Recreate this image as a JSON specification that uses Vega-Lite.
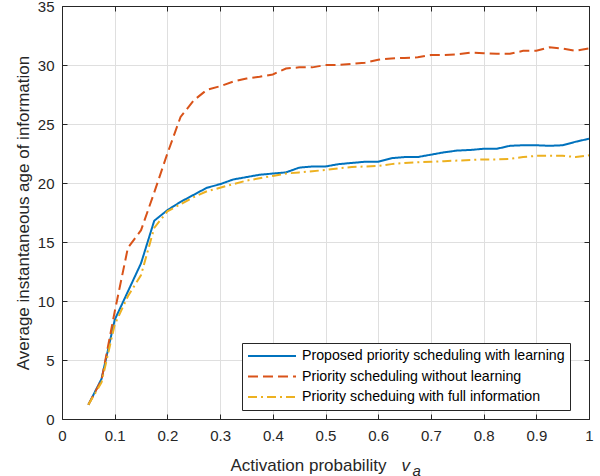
{
  "$schema": "https://vega.github.io/schema/vega-lite/v6.json",
  "width": 527,
  "height": 413,
  "autosize": {"type": "none"},
  "padding": {"left": 62, "top": 6, "right": 11, "bottom": 57},
  "background": "white",
  "config": {
    "view": {"stroke": null},
    "font": "Liberation Sans",
    "axis": {
      "labelFont": "Liberation Sans",
      "titleFont": "Liberation Sans",
      "labelColor": "#262626",
      "titleColor": "#262626",
      "domainColor": "#262626",
      "tickColor": "#262626",
      "domainWidth": 1,
      "tickWidth": 1,
      "gridColor": "#dfdfdf",
      "gridWidth": 1,
      "labelFontSize": 15,
      "titleFontSize": 17,
      "titleFontWeight": "normal",
      "labelFlush": false,
      "labelOverlap": false,
      "labelBound": false
    },
    "legend": {
      "strokeColor": "#262626",
      "strokeWidth": 1,
      "fillColor": "white",
      "padding": 5,
      "labelFont": "Liberation Sans",
      "labelFontSize": 14.2,
      "labelColor": "#000000",
      "symbolType": "stroke",
      "symbolSize": 2304,
      "symbolStrokeWidth": 2,
      "clipHeight": 16,
      "rowPadding": 4.5,
      "labelOffset": 5,
      "cornerRadius": 0,
      "labelLimit": 400
    }
  },
  "data": {
    "values": [
      {"x": 0.05, "y": 1.2, "s": "Proposed priority scheduling with learning"},
      {"x": 0.075, "y": 3.4, "s": "Proposed priority scheduling with learning"},
      {"x": 0.1, "y": 8.4, "s": "Proposed priority scheduling with learning"},
      {"x": 0.125, "y": 10.8, "s": "Proposed priority scheduling with learning"},
      {"x": 0.15, "y": 13.2, "s": "Proposed priority scheduling with learning"},
      {"x": 0.175, "y": 16.8, "s": "Proposed priority scheduling with learning"},
      {"x": 0.2, "y": 17.7, "s": "Proposed priority scheduling with learning"},
      {"x": 0.225, "y": 18.4, "s": "Proposed priority scheduling with learning"},
      {"x": 0.25, "y": 19.0, "s": "Proposed priority scheduling with learning"},
      {"x": 0.275, "y": 19.6, "s": "Proposed priority scheduling with learning"},
      {"x": 0.3, "y": 19.9, "s": "Proposed priority scheduling with learning"},
      {"x": 0.325, "y": 20.3, "s": "Proposed priority scheduling with learning"},
      {"x": 0.35, "y": 20.5, "s": "Proposed priority scheduling with learning"},
      {"x": 0.375, "y": 20.7, "s": "Proposed priority scheduling with learning"},
      {"x": 0.4, "y": 20.8, "s": "Proposed priority scheduling with learning"},
      {"x": 0.425, "y": 20.9, "s": "Proposed priority scheduling with learning"},
      {"x": 0.45, "y": 21.3, "s": "Proposed priority scheduling with learning"},
      {"x": 0.475, "y": 21.4, "s": "Proposed priority scheduling with learning"},
      {"x": 0.5, "y": 21.4, "s": "Proposed priority scheduling with learning"},
      {"x": 0.525, "y": 21.6, "s": "Proposed priority scheduling with learning"},
      {"x": 0.55, "y": 21.7, "s": "Proposed priority scheduling with learning"},
      {"x": 0.575, "y": 21.8, "s": "Proposed priority scheduling with learning"},
      {"x": 0.6, "y": 21.8, "s": "Proposed priority scheduling with learning"},
      {"x": 0.625, "y": 22.1, "s": "Proposed priority scheduling with learning"},
      {"x": 0.65, "y": 22.2, "s": "Proposed priority scheduling with learning"},
      {"x": 0.675, "y": 22.2, "s": "Proposed priority scheduling with learning"},
      {"x": 0.7, "y": 22.4, "s": "Proposed priority scheduling with learning"},
      {"x": 0.725, "y": 22.6, "s": "Proposed priority scheduling with learning"},
      {"x": 0.75, "y": 22.75, "s": "Proposed priority scheduling with learning"},
      {"x": 0.775, "y": 22.8, "s": "Proposed priority scheduling with learning"},
      {"x": 0.8, "y": 22.9, "s": "Proposed priority scheduling with learning"},
      {"x": 0.825, "y": 22.9, "s": "Proposed priority scheduling with learning"},
      {"x": 0.85, "y": 23.15, "s": "Proposed priority scheduling with learning"},
      {"x": 0.875, "y": 23.2, "s": "Proposed priority scheduling with learning"},
      {"x": 0.9, "y": 23.2, "s": "Proposed priority scheduling with learning"},
      {"x": 0.925, "y": 23.15, "s": "Proposed priority scheduling with learning"},
      {"x": 0.95, "y": 23.2, "s": "Proposed priority scheduling with learning"},
      {"x": 0.975, "y": 23.5, "s": "Proposed priority scheduling with learning"},
      {"x": 1.0, "y": 23.75, "s": "Proposed priority scheduling with learning"},

      {"x": 0.05, "y": 1.2, "s": "Priority scheduling without learning"},
      {"x": 0.075, "y": 3.3, "s": "Priority scheduling without learning"},
      {"x": 0.1, "y": 9.1, "s": "Priority scheduling without learning"},
      {"x": 0.125, "y": 14.5, "s": "Priority scheduling without learning"},
      {"x": 0.15, "y": 16.0, "s": "Priority scheduling without learning"},
      {"x": 0.175, "y": 19.2, "s": "Priority scheduling without learning"},
      {"x": 0.2, "y": 22.5, "s": "Priority scheduling without learning"},
      {"x": 0.225, "y": 25.6, "s": "Priority scheduling without learning"},
      {"x": 0.25, "y": 27.0, "s": "Priority scheduling without learning"},
      {"x": 0.275, "y": 27.9, "s": "Priority scheduling without learning"},
      {"x": 0.3, "y": 28.2, "s": "Priority scheduling without learning"},
      {"x": 0.325, "y": 28.6, "s": "Priority scheduling without learning"},
      {"x": 0.35, "y": 28.85, "s": "Priority scheduling without learning"},
      {"x": 0.375, "y": 29.0, "s": "Priority scheduling without learning"},
      {"x": 0.4, "y": 29.2, "s": "Priority scheduling without learning"},
      {"x": 0.425, "y": 29.7, "s": "Priority scheduling without learning"},
      {"x": 0.45, "y": 29.8, "s": "Priority scheduling without learning"},
      {"x": 0.475, "y": 29.8, "s": "Priority scheduling without learning"},
      {"x": 0.5, "y": 30.0, "s": "Priority scheduling without learning"},
      {"x": 0.525, "y": 30.0, "s": "Priority scheduling without learning"},
      {"x": 0.55, "y": 30.1, "s": "Priority scheduling without learning"},
      {"x": 0.575, "y": 30.2, "s": "Priority scheduling without learning"},
      {"x": 0.6, "y": 30.45, "s": "Priority scheduling without learning"},
      {"x": 0.625, "y": 30.55, "s": "Priority scheduling without learning"},
      {"x": 0.65, "y": 30.6, "s": "Priority scheduling without learning"},
      {"x": 0.675, "y": 30.65, "s": "Priority scheduling without learning"},
      {"x": 0.7, "y": 30.85, "s": "Priority scheduling without learning"},
      {"x": 0.725, "y": 30.85, "s": "Priority scheduling without learning"},
      {"x": 0.75, "y": 30.9, "s": "Priority scheduling without learning"},
      {"x": 0.775, "y": 31.05, "s": "Priority scheduling without learning"},
      {"x": 0.8, "y": 31.0, "s": "Priority scheduling without learning"},
      {"x": 0.825, "y": 30.95, "s": "Priority scheduling without learning"},
      {"x": 0.85, "y": 30.95, "s": "Priority scheduling without learning"},
      {"x": 0.875, "y": 31.2, "s": "Priority scheduling without learning"},
      {"x": 0.9, "y": 31.2, "s": "Priority scheduling without learning"},
      {"x": 0.925, "y": 31.5, "s": "Priority scheduling without learning"},
      {"x": 0.95, "y": 31.4, "s": "Priority scheduling without learning"},
      {"x": 0.975, "y": 31.2, "s": "Priority scheduling without learning"},
      {"x": 1.0, "y": 31.4, "s": "Priority scheduling without learning"},

      {"x": 0.05, "y": 1.2, "s": "Priority scheduing with full information"},
      {"x": 0.075, "y": 3.1, "s": "Priority scheduing with full information"},
      {"x": 0.1, "y": 8.0, "s": "Priority scheduing with full information"},
      {"x": 0.125, "y": 10.4, "s": "Priority scheduing with full information"},
      {"x": 0.15, "y": 12.2, "s": "Priority scheduing with full information"},
      {"x": 0.175, "y": 16.2, "s": "Priority scheduing with full information"},
      {"x": 0.2, "y": 17.6, "s": "Priority scheduing with full information"},
      {"x": 0.225, "y": 18.2, "s": "Priority scheduing with full information"},
      {"x": 0.25, "y": 18.8, "s": "Priority scheduing with full information"},
      {"x": 0.275, "y": 19.3, "s": "Priority scheduing with full information"},
      {"x": 0.3, "y": 19.6, "s": "Priority scheduing with full information"},
      {"x": 0.325, "y": 19.9, "s": "Priority scheduing with full information"},
      {"x": 0.35, "y": 20.2, "s": "Priority scheduing with full information"},
      {"x": 0.375, "y": 20.4, "s": "Priority scheduing with full information"},
      {"x": 0.4, "y": 20.6, "s": "Priority scheduing with full information"},
      {"x": 0.425, "y": 20.8, "s": "Priority scheduing with full information"},
      {"x": 0.45, "y": 20.9, "s": "Priority scheduing with full information"},
      {"x": 0.475, "y": 21.0, "s": "Priority scheduing with full information"},
      {"x": 0.5, "y": 21.1, "s": "Priority scheduing with full information"},
      {"x": 0.525, "y": 21.25, "s": "Priority scheduing with full information"},
      {"x": 0.55, "y": 21.35, "s": "Priority scheduing with full information"},
      {"x": 0.575, "y": 21.4, "s": "Priority scheduing with full information"},
      {"x": 0.6, "y": 21.45, "s": "Priority scheduing with full information"},
      {"x": 0.625, "y": 21.6, "s": "Priority scheduing with full information"},
      {"x": 0.65, "y": 21.7, "s": "Priority scheduing with full information"},
      {"x": 0.675, "y": 21.75, "s": "Priority scheduing with full information"},
      {"x": 0.7, "y": 21.8, "s": "Priority scheduing with full information"},
      {"x": 0.725, "y": 21.85, "s": "Priority scheduing with full information"},
      {"x": 0.75, "y": 21.9, "s": "Priority scheduing with full information"},
      {"x": 0.775, "y": 21.95, "s": "Priority scheduing with full information"},
      {"x": 0.8, "y": 22.0, "s": "Priority scheduing with full information"},
      {"x": 0.825, "y": 22.0, "s": "Priority scheduing with full information"},
      {"x": 0.85, "y": 22.05, "s": "Priority scheduing with full information"},
      {"x": 0.875, "y": 22.2, "s": "Priority scheduing with full information"},
      {"x": 0.9, "y": 22.3, "s": "Priority scheduing with full information"},
      {"x": 0.925, "y": 22.3, "s": "Priority scheduing with full information"},
      {"x": 0.95, "y": 22.3, "s": "Priority scheduing with full information"},
      {"x": 0.975, "y": 22.2, "s": "Priority scheduing with full information"},
      {"x": 1.0, "y": 22.35, "s": "Priority scheduing with full information"}
    ]
  },
  "layer": [
    {
      "transform": [{"filter": "datum.s === 'Proposed priority scheduling with learning'"}],
      "mark": {"type": "line", "strokeWidth": 2},
      "encoding": {
        "x": {
          "field": "x", "type": "quantitative",
          "scale": {"domain": [0, 1], "nice": false, "zero": false},
          "axis": {
            "orient": "bottom",
            "values": [0, 0.1, 0.2, 0.3, 0.4, 0.5, 0.6, 0.7, 0.8, 0.9, 1],
            "format": "~g",
            "grid": true,
            "tickSize": -5,
            "labelPadding": 14,
            "title": "Activation probability",
            "titleAlign": "left",
            "titleX": 168,
            "titleY": 51,
            "titleBaseline": "alphabetic"
          }
        },
        "y": {
          "field": "y", "type": "quantitative",
          "scale": {"domain": [0, 35], "nice": false},
          "axis": {
            "orient": "left",
            "values": [0, 5, 10, 15, 20, 25, 30, 35],
            "grid": true,
            "tickSize": -5,
            "labelPadding": 13,
            "title": "Average instantaneous age of information",
            "titleAngle": -90,
            "titleX": -34,
            "titleY": 206.5,
            "titleAlign": "center",
            "titleBaseline": "alphabetic"
          }
        },
        "color": {
          "field": "s", "type": "nominal",
          "scale": {
            "domain": ["Proposed priority scheduling with learning", "Priority scheduling without learning", "Priority scheduing with full information"],
            "range": ["#0072BD", "#D95319", "#EDB120"]
          },
          "legend": {"title": null, "orient": "none", "legendX": 180, "legendY": 337}
        },
        "strokeDash": {
          "field": "s", "type": "nominal",
          "scale": {
            "domain": ["Proposed priority scheduling with learning", "Priority scheduling without learning", "Priority scheduing with full information"],
            "range": [[1, 0], [10, 5], [9, 4, 2, 4]]
          },
          "legend": {"title": null, "orient": "none", "legendX": 180, "legendY": 337}
        }
      }
    },
    {
      "transform": [{"filter": "datum.s === 'Priority scheduling without learning'"}],
      "mark": {"type": "line", "strokeWidth": 2},
      "encoding": {
        "x": {
          "field": "x", "type": "quantitative",
          "scale": {"domain": [0, 1], "nice": false, "zero": false},
          "axis": {
            "orient": "top",
            "values": [0, 0.1, 0.2, 0.3, 0.4, 0.5, 0.6, 0.7, 0.8, 0.9, 1],
            "labels": false,
            "grid": false,
            "tickSize": -5,
            "title": null
          }
        },
        "y": {
          "field": "y", "type": "quantitative",
          "scale": {"domain": [0, 35], "nice": false},
          "axis": {
            "orient": "right",
            "values": [0, 5, 10, 15, 20, 25, 30, 35],
            "labels": false,
            "grid": false,
            "tickSize": -5,
            "title": null
          }
        },
        "color": {"field": "s", "type": "nominal"},
        "strokeDash": {"field": "s", "type": "nominal"}
      }
    },
    {
      "transform": [{"filter": "datum.s === 'Priority scheduing with full information'"}],
      "mark": {"type": "line", "strokeWidth": 2},
      "encoding": {
        "x": {
          "field": "x", "type": "quantitative",
          "scale": {"domain": [0, 1], "nice": false, "zero": false},
          "axis": {
            "orient": "bottom",
            "labels": false,
            "ticks": false,
            "domain": false,
            "grid": false,
            "title": "v",
            "titleFontStyle": "italic",
            "titleAlign": "left",
            "titleX": 339,
            "titleY": 51,
            "titleBaseline": "alphabetic"
          }
        },
        "y": {
          "field": "y", "type": "quantitative",
          "scale": {"domain": [0, 35], "nice": false},
          "axis": {
            "orient": "left",
            "labels": false,
            "ticks": false,
            "domain": false,
            "grid": false,
            "title": "a",
            "titleFontStyle": "italic",
            "titleFontSize": 15,
            "titleAngle": 0,
            "titleAlign": "left",
            "titleX": 350,
            "titleY": 469,
            "titleBaseline": "alphabetic"
          }
        },
        "color": {"field": "s", "type": "nominal"},
        "strokeDash": {"field": "s", "type": "nominal"}
      }
    }
  ],
  "resolve": {"axis": {"x": "independent", "y": "independent"}}
}
